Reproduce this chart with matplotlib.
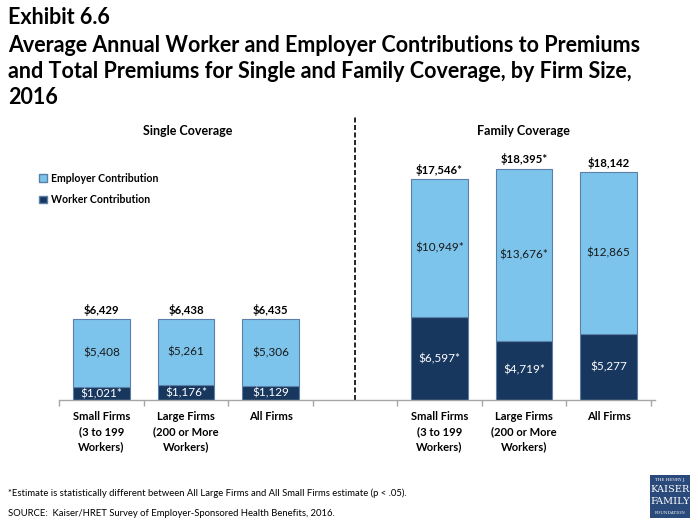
import matplotlib
matplotlib.use("Agg")
import matplotlib.pyplot as plt
from matplotlib.patches import Rectangle, Patch

plt.rcParams['font.family'] = ['Lato', 'DejaVu Sans']

# ---- data ----
categories = ["Small Firms\n(3 to 199\nWorkers)", "Large Firms\n(200 or More\nWorkers)", "All Firms"]
single_worker = [1021, 1176, 1129]
single_employer = [5408, 5261, 5306]
single_total = [6429, 6438, 6435]
single_worker_lbl = ["$1,021*", "$1,176*", "$1,129"]
single_employer_lbl = ["$5,408", "$5,261", "$5,306"]
single_total_lbl = ["$6,429", "$6,438", "$6,435"]

family_worker = [6597, 4719, 5277]
family_employer = [10949, 13676, 12865]
family_total = [17546, 18395, 18142]
family_worker_lbl = ["$6,597*", "$4,719*", "$5,277"]
family_employer_lbl = ["$10,949*", "$13,676*", "$12,865"]
family_total_lbl = ["$17,546*", "$18,395*", "$18,142"]

LIGHT = '#7CC4EC'
DARK = '#17375E'
EDGE = '#5B7FA6'

fig = plt.figure(figsize=(6.98, 5.23), dpi=100)
ax = fig.add_axes([59.25/698, 123/523, (655-59.25)/698, 283/523])

x_single = [0, 1, 2]
x_family = [4, 5, 6]
w = 0.67

for xs, wk, em, tot, wl, el, tl in [
    (x_single, single_worker, single_employer, single_total, single_worker_lbl, single_employer_lbl, single_total_lbl),
    (x_family, family_worker, family_employer, family_total, family_worker_lbl, family_employer_lbl, family_total_lbl)]:
    ax.bar(xs, wk, width=w, color=DARK, edgecolor=EDGE, linewidth=0.8, zorder=2)
    ax.bar(xs, em, width=w, bottom=wk, color=LIGHT, edgecolor=EDGE, linewidth=0.8, zorder=2)
    for xi, a, b, t, l1, l2, l3 in zip(xs, wk, em, tot, wl, el, tl):
        ax.text(xi, a/2, l1, ha='center', va='center', color='white', fontsize=8.5)
        ax.text(xi, a + b/2, l2, ha='center', va='center', color='#1a1a1a', fontsize=8.5)
        ax.text(xi, a + b + 250, l3, ha='center', va='bottom', color='black', fontsize=8.2, fontweight='bold')

ax.set_xlim(-0.5, 6.55)
ax.set_ylim(0, 22500)
for s in ['top', 'right', 'left']:
    ax.spines[s].set_visible(False)
ax.spines['bottom'].set_color('#A6A6A6')
ax.spines['bottom'].set_linewidth(1.0)
ax.set_yticks([])
ax.set_xticks([-0.5, 0.5, 1.5, 2.5, 3.5, 4.5, 5.5, 6.5])
ax.set_xticklabels([])
ax.tick_params(axis='x', length=4, color='#A6A6A6', width=1.0, direction='out')

for xi, c in zip(x_single + x_family, categories + categories):
    ax.text(xi, -900, c, ha='center', va='top', fontsize=8, fontweight='bold',
            linespacing=1.45, transform=ax.transData)

ax.axvline(3.0, ymin=0, ymax=1, color='black', linestyle=(0, (3, 1.5)), linewidth=1.2, zorder=1)

# section titles
fig.text(188/698, 1 - 131/523, "Single Coverage", ha='center', va='center', fontsize=9, fontweight='bold')
fig.text(523/698, 1 - 131/523, "Family Coverage", ha='center', va='center', fontsize=9, fontweight='bold')

# legend
handles = [Patch(facecolor=LIGHT, edgecolor=EDGE, label='Employer Contribution'),
           Patch(facecolor=DARK, edgecolor=EDGE, label='Worker Contribution')]
fig.legend(handles=handles, loc='upper left', bbox_to_anchor=(30/698, 1 - 163/523), frameon=False,
           handlelength=0.7, handleheight=0.7, handletextpad=0.35, labelspacing=1.0,
           prop={'weight': 'bold', 'size': 7.6})

# title
fig.text(8/698, 1 - 17/523, "Exhibit 6.6", ha='left', va='center', fontsize=15.5, fontweight='bold')
title = ("Average Annual Worker and Employer Contributions to Premiums\n"
         "and Total Premiums for Single and Family Coverage, by Firm Size,\n"
         "2016")
fig.text(8/698, 1 - 35/523, title, ha='left', va='top', fontsize=15.5, fontweight='bold', linespacing=1.3)

# footnotes
fig.text(8/698, 1 - 493/523, "*Estimate is statistically different between All Large Firms and All Small Firms estimate (p < .05).",
         ha='left', va='center', fontsize=6.8)
fig.text(8/698, 1 - 514/523, "SOURCE:  Kaiser/HRET Survey of Employer-Sponsored Health Benefits, 2016.",
         ha='left', va='center', fontsize=6.8)

# logo
lx0, ly0, lw, lh = 650/698, 1 - 518/523, 40/698, 43/523
fig.patches.append(Rectangle((lx0, ly0), lw, lh, transform=fig.transFigure, facecolor='#2A4A7B', edgecolor='none'))
cx = lx0 + lw/2
fig.text(cx, 1 - 480/523, "THE HENRY J.", ha='center', va='center', fontsize=3, color='white', family='DejaVu Serif')
fig.text(cx, 1 - 490/523, "KAISER", ha='center', va='center', fontsize=7, color='white', family='DejaVu Serif')
fig.text(cx, 1 - 502/523, "FAMILY", ha='center', va='center', fontsize=7, color='white', family='DejaVu Serif')
fig.text(cx, 1 - 513/523, "FOUNDATION", ha='center', va='center', fontsize=3, color='white', family='DejaVu Serif')

fig.savefig('out.png', dpi=100)
